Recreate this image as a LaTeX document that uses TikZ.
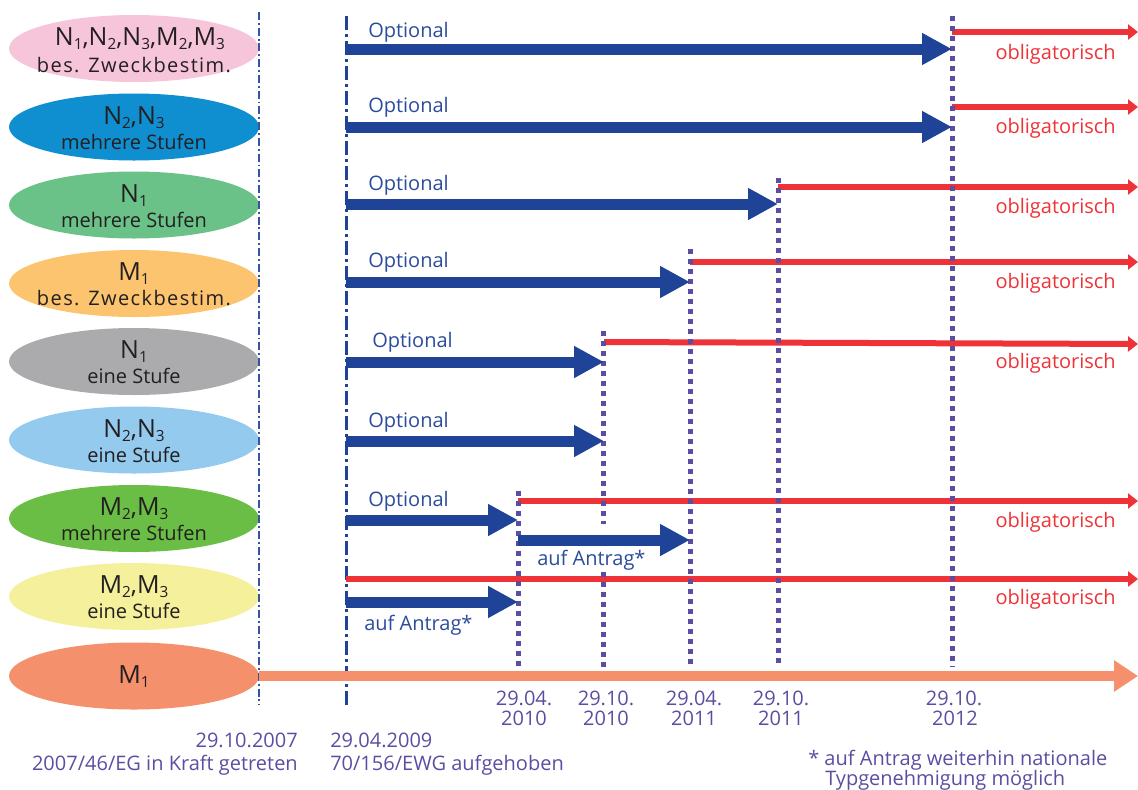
\documentclass[tikz,border=0pt]{standalone}
\usepackage{fontspec}
\setmainfont{Open Sans}
\usetikzlibrary{arrows.meta,shapes.geometric}
\definecolor{cPink}{HTML}{F7C5DA}
\definecolor{cBlue}{HTML}{0F8FD0}
\definecolor{cGreenA}{HTML}{6BC289}
\definecolor{cOrange}{HTML}{FDC46F}
\definecolor{cGray}{HTML}{ABABAE}
\definecolor{cLBlue}{HTML}{93CAEE}
\definecolor{cGreenB}{HTML}{6BBE45}
\definecolor{cYellow}{HTML}{F5F09C}
\definecolor{cSalmon}{HTML}{F4906B}
\definecolor{cTxt}{HTML}{231F20}
\definecolor{cArrow}{HTML}{1F4397}
\definecolor{cOpt}{HTML}{2B4C9B}
\definecolor{cRed}{HTML}{EE3237}
\definecolor{cPurple}{HTML}{5A4EA2}
\definecolor{cLineA}{HTML}{3852A4}
\newcommand\lowsub[1]{\raisebox{-3.5pt}{\fontsize{11.5}{11.5}\selectfont #1}}
\newcommand\widetxt[1]{{\addfontfeatures{LetterSpace=7}#1}}
\tikzset{
  ell/.style={ellipse, draw=none, fill=#1, minimum width=187.5pt, minimum height=50.25pt, inner sep=0pt},
  mainlbl/.style={anchor=base, inner sep=0pt, text=cTxt, font=\fontsize{18.75}{20}\selectfont},
  sublbl/.style={anchor=base, inner sep=0pt, text=cTxt, font=\fontsize{15}{17}\selectfont},
  optlbl/.style={anchor=base west, inner sep=0pt, text=cOpt, font=\fontsize{15}{17}\selectfont},
  obllbl/.style={anchor=base east, inner sep=0pt, text=cRed, font=\fontsize{15}{17}\selectfont},
  datelbl/.style={inner sep=0pt, text=cPurple, font=\fontsize{15}{15}\selectfont},
  bluearrow/.style={draw=cArrow, line width=8.25pt, -{Triangle[length=22.5pt,width=22.5pt]}},
  redarrow/.style={draw=cRed, line width=4.5pt, -{Triangle[length=7.5pt,width=11.25pt]}},
  orangearrow/.style={draw=cSalmon, line width=7.9pt, -{Triangle[length=18pt,width=22.5pt]}},
  dotline/.style={draw=cPurple, line width=3.75pt, dash pattern=on 4pt off 3.5pt},
  lineA/.style={draw=cLineA, line width=1.1pt, dash pattern=on 6pt off 2.2pt on 1.4pt off 2.2pt},
  lineB/.style={draw=cArrow, line width=2.25pt, dash pattern=on 10.5pt off 3pt on 2.25pt off 3pt},
}
\begin{document}
\begin{tikzpicture}[x=0.75pt,y=-0.75pt]
\useasboundingbox (0,0) rectangle (1138,789);

% ellipses
\node[ell=cPink]   (e1) at (134,48.5) {};
\node[ell=cBlue]   (e2) at (134,127) {};
\node[ell=cGreenA] (e3) at (134,205) {};
\node[ell=cOrange] (e4) at (134,283.5) {};
\node[ell=cGray]   (e5) at (134,361.5) {};
\node[ell=cLBlue]  (e6) at (134,440) {};
\node[ell=cGreenB] (e7) at (134,518.5) {};
\node[ell=cYellow] (e8) at (134,596.5) {};
\node[ell=cSalmon] (e9) at (134,676) {};

% ellipse labels
\node[mainlbl] (l1a) at (140,45) {N\lowsub{1},N\lowsub{2},N\lowsub{3},M\lowsub{2},M\lowsub{3}};
\node[sublbl]  (l1b) at (134,72) {\widetxt{bes. Zweckbestim.}};
\node[mainlbl] (l2a) at (134,124) {N\lowsub{2},N\lowsub{3}};
\node[sublbl]  (l2b) at (134,149) {mehrere Stufen};
\node[mainlbl] (l3a) at (134,202) {N\lowsub{1}};
\node[sublbl]  (l3b) at (134,227) {mehrere Stufen};
\node[mainlbl] (l4a) at (134,280) {M\lowsub{1}};
\node[sublbl]  (l4b) at (134,305) {\widetxt{bes. Zweckbestim.}};
\node[mainlbl] (l5a) at (134,358) {N\lowsub{1}};
\node[sublbl]  (l5b) at (134,383) {eine Stufe};
\node[mainlbl] (l6a) at (134,437) {N\lowsub{2},N\lowsub{3}};
\node[sublbl]  (l6b) at (134,462) {eine Stufe};
\node[mainlbl] (l7a) at (134,515) {M\lowsub{2},M\lowsub{3}};
\node[sublbl]  (l7b) at (134,540) {mehrere Stufen};
\node[mainlbl] (l8a) at (134,593) {M\lowsub{2},M\lowsub{3}};
\node[sublbl]  (l8b) at (134,618) {eine Stufe};
\node[mainlbl] (l9a) at (134,683) {M\lowsub{1}};

% vertical reference lines
\coordinate (vAt) at (259,12);  \coordinate (vAb) at (259,705);
\coordinate (vBt) at (346,16);  \coordinate (vBb) at (346,705);
\draw[lineA] (vAt) -- (vAb);
\draw[lineB] (vBt) -- (vBb);

\coordinate (d1t) at (518,491); \coordinate (d1b) at (518,667);
\coordinate (d2t) at (603,331); \coordinate (d2m) at (603,524);
\coordinate (d2n) at (603,572); \coordinate (d2b) at (603,667);
\coordinate (d3t) at (690,249); \coordinate (d3b) at (690,667);
\coordinate (d4t) at (778,178); \coordinate (d4b) at (778,667);
\coordinate (d5t) at (952,16);  \coordinate (d5b) at (952,667);

% row coordinates
\coordinate (b1s) at (346,49);  \coordinate (b1e) at (952,49);
\coordinate (r1s) at (952,32);  \coordinate (r1e) at (1138,32);
\coordinate (b2s) at (346,127); \coordinate (b2e) at (952,127);
\coordinate (r2s) at (952,107); \coordinate (r2e) at (1138,107);
\coordinate (b3s) at (346,204); \coordinate (b3e) at (778,204);
\coordinate (r3s) at (778,187); \coordinate (r3e) at (1138,187);
\coordinate (b4s) at (346,282); \coordinate (b4e) at (690,282);
\coordinate (r4s) at (690,262); \coordinate (r4e) at (1138,262);
\coordinate (b5s) at (346,362); \coordinate (b5e) at (604,362);
\coordinate (r5s) at (604,342); \coordinate (r5e) at (1138,344);
\coordinate (b6s) at (346,441); \coordinate (b6e) at (604,441);
\coordinate (b7s) at (346,520); \coordinate (b7e) at (518,520);
\coordinate (r7s) at (518,501); \coordinate (r7e) at (1138,501);
\coordinate (c7s) at (518,540); \coordinate (c7e) at (690,540);
\coordinate (r8s) at (346,579); \coordinate (r8e) at (1138,579);
\coordinate (b8s) at (346,602); \coordinate (b8e) at (518,602);
\coordinate (o9e) at (1138,676);

% red lines
\draw[redarrow] (r1s) -- (r1e);
\draw[redarrow] (r2s) -- (r2e);
\draw[redarrow] (r3s) -- (r3e);
\draw[redarrow] (r4s) -- (r4e);
\draw[redarrow] (r5s) -- (r5e);
\draw[redarrow] (r7s) -- (r7e);
\draw[redarrow] (r8s) -- (r8e);

% dotted date lines
\draw[dotline] (d1t) -- (d1b);
\draw[dotline] (d2t) -- (d2m);
\draw[dotline] (d2n) -- (d2b);
\draw[dotline] (d3t) -- (d3b);
\draw[dotline] (d4t) -- (d4b);
\draw[dotline] (d5t) -- (d5b);

% blue arrows
\draw[bluearrow] (b1s) -- (b1e);
\draw[bluearrow] (b2s) -- (b2e);
\draw[bluearrow] (b3s) -- (b3e);
\draw[bluearrow] (b4s) -- (b4e);
\draw[bluearrow] (b5s) -- (b5e);
\draw[bluearrow] (b6s) -- (b6e);
\draw[bluearrow] (b7s) -- (b7e);
\draw[bluearrow] (c7s) -- (c7e);
\draw[bluearrow] (b8s) -- (b8e);

% orange arrow
\draw[orangearrow] (e9.east) -- (o9e);

% labels
\node[optlbl] (o1) at (368,37) {Optional};
\node[optlbl] (o2) at (368,112) {Optional};
\node[optlbl] (o3) at (368,190) {Optional};
\node[optlbl] (o4) at (368,267) {Optional};
\node[optlbl] (o5) at (372,347) {Optional};
\node[optlbl] (o6) at (368,427) {Optional};
\node[optlbl] (o7) at (368,506) {Optional};
\node[optlbl] (a7) at (537,565) {auf Antrag*};
\node[optlbl] (a8) at (364,630) {auf Antrag*};

\node[obllbl] (ob1) at (1116,59) {obligatorisch};
\node[obllbl] (ob2) at (1116,133) {obligatorisch};
\node[obllbl] (ob3) at (1116,213) {obligatorisch};
\node[obllbl] (ob4) at (1116,288) {obligatorisch};
\node[obllbl] (ob5) at (1116,368) {obligatorisch};
\node[obllbl] (ob7) at (1116,527) {obligatorisch};
\node[obllbl] (ob8) at (1116,604) {obligatorisch};

% date labels
\node[datelbl, anchor=base] (t1a) at (524,705) {29.04.};
\node[datelbl, anchor=base] (t1b) at (524,725) {2010};
\node[datelbl, anchor=base] (t2a) at (606,705) {29.10.};
\node[datelbl, anchor=base] (t2b) at (606,725) {2010};
\node[datelbl, anchor=base] (t3a) at (694,705) {29.04.};
\node[datelbl, anchor=base] (t3b) at (694,725) {2011};
\node[datelbl, anchor=base] (t4a) at (781,705) {29.10.};
\node[datelbl, anchor=base] (t4b) at (781,725) {2011};
\node[datelbl, anchor=base] (t5a) at (954,705) {29.10.};
\node[datelbl, anchor=base] (t5b) at (955,725) {2012};

\node[datelbl, anchor=base east] (s1a) at (298,747) {29.10.2007};
\node[datelbl, anchor=base east] (s1b) at (298,770) {2007/46/EG in Kraft getreten};
\node[datelbl, anchor=base west] (s2a) at (330,747) {29.04.2009};
\node[datelbl, anchor=base west] (s2b) at (330,770) {70/156/EWG aufgehoben};

\node[datelbl, anchor=base west] (f1) at (808,765) {* auf Antrag weiterhin nationale};
\node[datelbl, anchor=base west] (f2) at (825,785) {Typgenehmigung möglich};
\end{tikzpicture}
\end{document}
